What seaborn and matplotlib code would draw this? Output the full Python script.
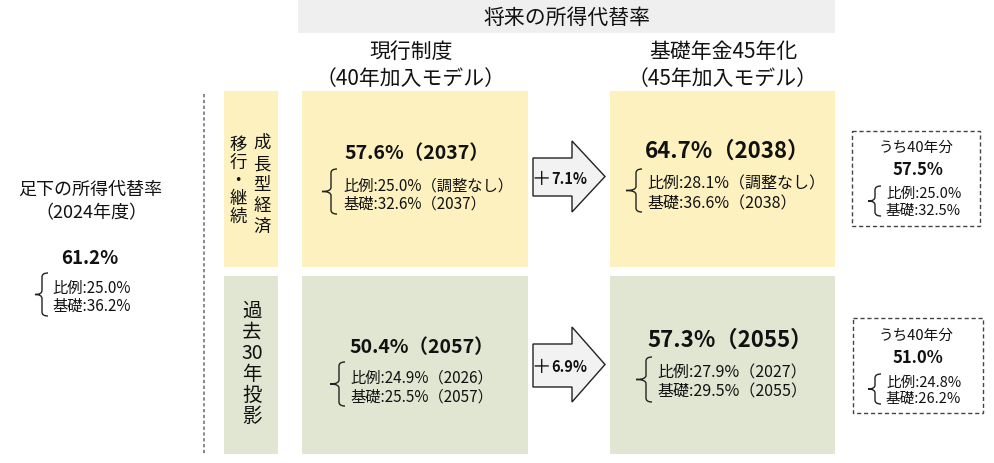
import matplotlib
matplotlib.use('Agg')
import matplotlib.pyplot as plt
import matplotlib.patches as mpatches
from matplotlib.path import Path
import seaborn as sns

# 足下の所得代替率（2024年度）
now_total = 61.2
now_prop = 25.0
now_basic = 36.2

# 行ラベル
row_labels = [['成長型経済', '移行・継続'], ['過去', '30', '年投影']]

# 現行制度（40年加入モデル）
cur_total = [57.6, 50.4]
cur_year = [2037, 2057]
cur_prop = [25.0, 24.9]
cur_prop_note = ['調整なし', '2026']
cur_basic = [32.6, 25.5]
cur_basic_year = [2037, 2057]

# 基礎年金45年化（45年加入モデル）
new_total = [64.7, 57.3]
new_year = [2038, 2055]
new_prop = [28.1, 27.9]
new_prop_note = ['調整なし', '2027']
new_basic = [36.6, 29.5]
new_basic_year = [2038, 2055]

# 増加幅
gain = [7.1, 6.9]

# うち40年分
sub_total = [57.5, 51.0]
sub_prop = [25.0, 24.8]
sub_basic = [32.5, 26.2]

sns.set_theme(style='white')
plt.rcParams['font.family'] = ['Noto Sans CJK JP', 'DejaVu Sans']

YELLOW = '#fdf1c0'
GREEN = '#e1e6d3'
row_colors = [YELLOW, GREEN]
TXT = '#111111'

fig = plt.figure(figsize=(9.95, 4.64), dpi=100)
ax = fig.add_axes([0, 0, 1, 1])
ax.set_xlim(0, 995)
ax.set_ylim(464, 0)
ax.axis('off')


def brace(x_tip, x_bar, y0, y1, lw=1.0):
    ym = (y0 + y1) / 2
    r = 4
    h = x_bar + 6
    verts = [(h, y0), (x_bar, y0), (x_bar, y0 + r), (x_bar, ym - r),
             (x_bar, ym), (x_tip, ym), (x_bar, ym), (x_bar, ym + r),
             (x_bar, y1 - r), (x_bar, y1), (h, y1)]
    codes = [Path.MOVETO, Path.CURVE3, Path.CURVE3, Path.LINETO,
             Path.CURVE3, Path.CURVE3, Path.CURVE3, Path.CURVE3,
             Path.LINETO, Path.CURVE3, Path.CURVE3]
    ax.add_patch(mpatches.PathPatch(Path(verts, codes), fill=False,
                                    edgecolor='#222222', lw=lw))


def rect(x0, y0, x1, y1, **kw):
    ax.add_patch(mpatches.Rectangle((x0, y0), x1 - x0, y1 - y0, **kw))


# ヘッダー
rect(298, 0, 835, 34, facecolor='#efefef', edgecolor='none')
ax.text(567, 18, '将来の所得代替率', ha='center', va='center', fontsize=15, color=TXT)
ax.text(411, 52, '現行制度', ha='center', va='center', fontsize=15, color=TXT)
ax.text(411, 79, '（40年加入モデル）', ha='center', va='center', fontsize=15, color=TXT)
ax.text(723, 52, '基礎年金45年化', ha='center', va='center', fontsize=15, color=TXT)
ax.text(723, 79, '（45年加入モデル）', ha='center', va='center', fontsize=15, color=TXT)

# 足下
ax.text(90, 190, '足下の所得代替率', ha='center', va='center', fontsize=13, color=TXT)
ax.text(91, 213, '（2024年度）', ha='center', va='center', fontsize=13, color=TXT)
ax.text(90, 259, f'{now_total:.1f}%', ha='center', va='center', fontsize=13.5,
        fontweight='bold', color=TXT)
brace(35, 42, 274, 317)
ax.text(52, 288, f'比例:{now_prop:.1f}%', ha='left', va='center', fontsize=11, color=TXT)
ax.text(52, 306, f'基礎:{now_basic:.1f}%', ha='left', va='center', fontsize=11, color=TXT)

# 区切り線
ax.plot([204, 204], [95, 455], color='#777777', lw=1.2, ls=(0, (2, 1.5)))

row_top = [92, 277]
row_bot = [268, 455]
cur_total_y = [154, 348]
cur_total_x = [417, 422]
cur_line_y = [(186, 204), (378, 397)]
cur_brace = [(322, 331, 170, 215), (330, 339, 363, 407)]
cur_line_x = [343, 350]
new_total_y = [151, 340]
new_total_x = [727, 730]
new_line_y = [(184, 204), (373, 392)]
new_brace = [(626, 636, 170, 213), (636, 646, 358, 403)]
new_line_x = [647, 657]
arrow_y = [(159, 197, 142, 213), (345, 388, 328, 403)]
sub_box = [(852, 132, 980, 227), (853, 319, 983, 414)]
sub_title_y = [148, 336]
sub_total_y = [170, 358]
sub_line_y = [(194, 211), (383, 399)]
sub_brace_y = [(187, 217), (375, 405)]

for i in range(2):
    top, bot = row_top[i], row_bot[i]
    col = row_colors[i]
    rect(224, top, 278, bot, facecolor=col, edgecolor='none')
    rect(302, top, 528, bot, facecolor=col, edgecolor='none')
    rect(610, top, 835, bot, facecolor=col, edgecolor='none')

    # 現行制度
    ax.text(cur_total_x[i], cur_total_y[i], f'{cur_total[i]:.1f}%（{cur_year[i]}）',
            ha='center', va='center', fontsize=14, fontweight='bold', color=TXT)
    brace(*cur_brace[i])
    ax.text(cur_line_x[i], cur_line_y[i][0], f'比例:{cur_prop[i]:.1f}%（{cur_prop_note[i]}）',
            ha='left', va='center', fontsize=11, color=TXT)
    ax.text(cur_line_x[i], cur_line_y[i][1], f'基礎:{cur_basic[i]:.1f}%（{cur_basic_year[i]}）',
            ha='left', va='center', fontsize=11, color=TXT)

    # 矢印
    b0, b1, h0, h1 = arrow_y[i]
    ym = (h0 + h1) / 2
    ax.add_patch(mpatches.Polygon([(533, b0), (572, b0), (572, h0), (605, ym), (572, h1),
                                   (572, b1), (533, b1)], closed=True,
                                  facecolor='#f2f2f2', edgecolor='#222222', lw=1.0))
    ax.text(541, ym + 2, '＋', ha='center', va='center', fontsize=14, color=TXT)
    ax.text(551, ym + 2, f'{gain[i]:.1f}%', ha='left', va='center', fontsize=10.5,
            fontweight='bold', color=TXT)

    # 45年化
    ax.text(new_total_x[i], new_total_y[i], f'{new_total[i]:.1f}%（{new_year[i]}）',
            ha='center', va='center', fontsize=16, fontweight='bold', color=TXT)
    brace(*new_brace[i])
    ax.text(new_line_x[i], new_line_y[i][0], f'比例:{new_prop[i]:.1f}%（{new_prop_note[i]}）',
            ha='left', va='center', fontsize=11.5, color=TXT)
    ax.text(new_line_x[i], new_line_y[i][1], f'基礎:{new_basic[i]:.1f}%（{new_basic_year[i]}）',
            ha='left', va='center', fontsize=11.5, color=TXT)

    # うち40年分
    x0, y0, x1, y1 = sub_box[i]
    rect(x0, y0, x1, y1, facecolor='white', edgecolor='#444444', lw=1.0, ls=(0, (3, 2)))
    ax.text(916, sub_title_y[i], 'うち40年分', ha='center', va='center', fontsize=10.5, color=TXT)
    ax.text(918, sub_total_y[i], f'{sub_total[i]:.1f}%', ha='center', va='center', fontsize=12,
            fontweight='bold', color=TXT)
    brace(868, 875, *sub_brace_y[i])
    ax.text(886, sub_line_y[i][0], f'比例:{sub_prop[i]:.1f}%', ha='left', va='center',
            fontsize=10.5, color=TXT)
    ax.text(886, sub_line_y[i][1], f'基礎:{sub_basic[i]:.1f}%', ha='left', va='center',
            fontsize=10.5, color=TXT)

# 行ラベル（縦書き）
for k, ch in enumerate(row_labels[0][0]):
    ax.text(262, 143 + k * 21, ch, ha='center', va='center', fontsize=12.5, color=TXT)
for k, ch in enumerate(row_labels[0][1]):
    ax.text(238, 145 + k * 18, ch, ha='center', va='center', fontsize=12.5, color=TXT)
chars2 = list(row_labels[1][0]) + [row_labels[1][1]] + list(row_labels[1][2])
for k, ch in enumerate(chars2):
    ax.text(252, 311 + k * 21.2, ch, ha='center', va='center', fontsize=14, color=TXT)

fig.savefig('out.png', dpi=100)
